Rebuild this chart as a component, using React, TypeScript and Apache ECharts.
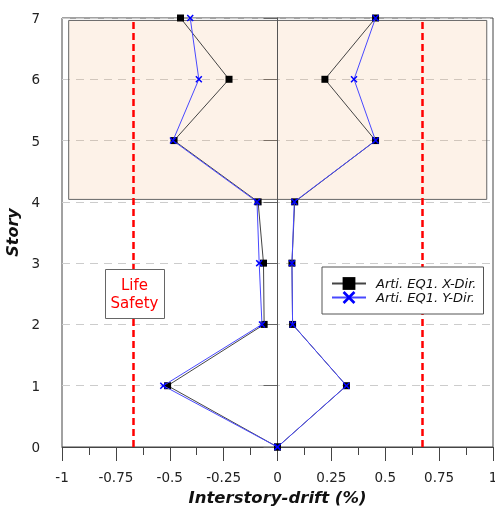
import React, { useEffect, useRef } from "react";
import * as echarts from "echarts";

const stories = [0, 1, 2, 3, 4, 5, 6, 7];
const xDirNeg = [0, -0.51, -0.062, -0.065, -0.09, -0.48, -0.225, -0.45];
const xDirPos = [0, 0.32, 0.07, 0.067, 0.08, 0.455, 0.22, 0.455];
const yDirNeg = [0, -0.53, -0.072, -0.085, -0.095, -0.485, -0.365, -0.405];
const yDirPos = [0, 0.32, 0.07, 0.067, 0.078, 0.455, 0.355, 0.455];
const limitLines = [-0.6667, 0.6667];
const zoneX = [-0.969, 0.971];
const zoneY = [4.04, 6.96];
const seriesNames = ["Arti. EQ1. X-Dir.", "Arti. EQ1. Y-Dir."];

const FONT = "DejaVu Sans";
const CROSS =
  "path://M0,1.5L1.5,0L5,3.5L8.5,0L10,1.5L6.5,5L10,8.5L8.5,10L5,6.5L1.5,10L0,8.5L3.5,5Z";

export default function App() {
  const ref = useRef<HTMLDivElement>(null);
  useEffect(() => {
    if (!ref.current) return;
    const chart = echarts.init(ref.current, undefined, { renderer: "svg" });
    const pairs = (xs: number[]) => xs.map((x, i) => [x, stories[i]]);
    const xStyle = {
      type: "line" as const,
      name: seriesNames[0],
      symbol: "rect",
      symbolSize: 7,
      itemStyle: { color: "#000" },
      lineStyle: { color: "#444", width: 1 },
      z: 3,
    };
    const yStyle = {
      type: "line" as const,
      name: seriesNames[1],
      symbol: CROSS,
      symbolSize: 7,
      itemStyle: { color: "#0000ff" },
      lineStyle: { color: "#4848ff", width: 1 },
      z: 4,
    };
    chart.setOption({
      animation: false,
      grid: {
        left: 62,
        right: 2,
        top: 18,
        bottom: 61,
        containLabel: false,
        outerBoundsMode: "none",
        show: true,
        borderColor: "#444",
        borderWidth: 1,
        backgroundColor: "transparent",
      },
      xAxis: {
        type: "value",
        min: -1,
        max: 1,
        interval: 0.25,
        name: "Interstory-drift (%)",
        nameLocation: "middle",
        nameGap: 42,
        nameTextStyle: {
          fontFamily: FONT,
          fontSize: 16.5,
          fontWeight: "bold",
          fontStyle: "italic",
          color: "#111",
        },
        axisLine: { show: true, lineStyle: { color: "#444" } },
        axisTick: { show: true, length: 14, lineStyle: { color: "#444" } },
        minorTick: { show: true, splitNumber: 2, length: 8, lineStyle: { color: "#444" } },
        splitLine: { show: false },
        axisLabel: { fontFamily: FONT, fontSize: 13.5, color: "#222", margin: 23 },
      },
      yAxis: {
        type: "value",
        min: 0,
        max: 7,
        interval: 1,
        name: "Story",
        nameLocation: "middle",
        nameGap: 37,
        nameTextStyle: {
          fontFamily: FONT,
          fontSize: 16,
          fontWeight: "bold",
          fontStyle: "italic",
          color: "#111",
        },
        axisLine: { show: true, lineStyle: { color: "#444" } },
        axisTick: { show: true, length: 14, lineStyle: { color: "#666" } },
        splitLine: { show: true, lineStyle: { color: "#cccccc", type: [8, 6], width: 1 } },
        axisLabel: { fontFamily: FONT, fontSize: 13.5, color: "#222", margin: 22 },
      },
      legend: {
        data: seriesNames,
        orient: "vertical",
        left: 322,
        top: 267,
        padding: [10, 7, 10, 9],
        itemWidth: 34,
        itemHeight: 16,
        itemGap: 1,
        backgroundColor: "#fff",
        borderColor: "#555",
        borderWidth: 1,
        borderRadius: 0,
        z: 10,
        textStyle: {
          fontFamily: FONT,
          fontSize: 13,
          fontStyle: "italic",
          color: "#111",
          padding: [0, 0, 0, 5],
        },
      },
      series: [
        {
          ...xStyle,
          data: pairs(xDirNeg),
          markArea: {
            silent: true,
            z: 1,
            itemStyle: {
              color: "rgba(242,170,100,0.15)",
              borderColor: "#666",
              borderWidth: 1,
            },
            data: [[{ coord: [zoneX[0], zoneY[1]] }, { coord: [zoneX[1], zoneY[0]] }]],
          },
          markLine: {
            silent: true,
            symbol: "none",
            label: { show: false },
            z: 2,
            data: [
              ...limitLines.map((v) => ({
                xAxis: v,
                lineStyle: { color: "#ff0000", width: 2.5, type: [7, 4] },
              })),
              { xAxis: 0, lineStyle: { color: "#555", width: 1, type: "solid" } },
            ],
          },
        },
        { ...xStyle, data: pairs(xDirPos) },
        { ...yStyle, data: pairs(yDirNeg) },
        { ...yStyle, data: pairs(yDirPos) },
      ],
      graphic: [
        {
          type: "rect",
          z: 10,
          shape: { x: 105.5, y: 269.5, width: 59, height: 49 },
          style: { fill: "#fff", stroke: "#666", lineWidth: 1 },
        },
        {
          type: "text",
          z: 11,
          x: 134.5,
          y: 294,
          style: {
            text: "Life\nSafety",
            fontFamily: FONT,
            fontSize: 15,
            lineHeight: 18,
            fill: "#ff0000",
            align: "center",
            verticalAlign: "middle",
          },
        },
      ],
    });
    return () => chart.dispose();
  }, []);
  return (
    <div
      ref={ref}
      style={{ position: "fixed", left: 0, top: 0, width: 495, height: 508 }}
    />
  );
}
